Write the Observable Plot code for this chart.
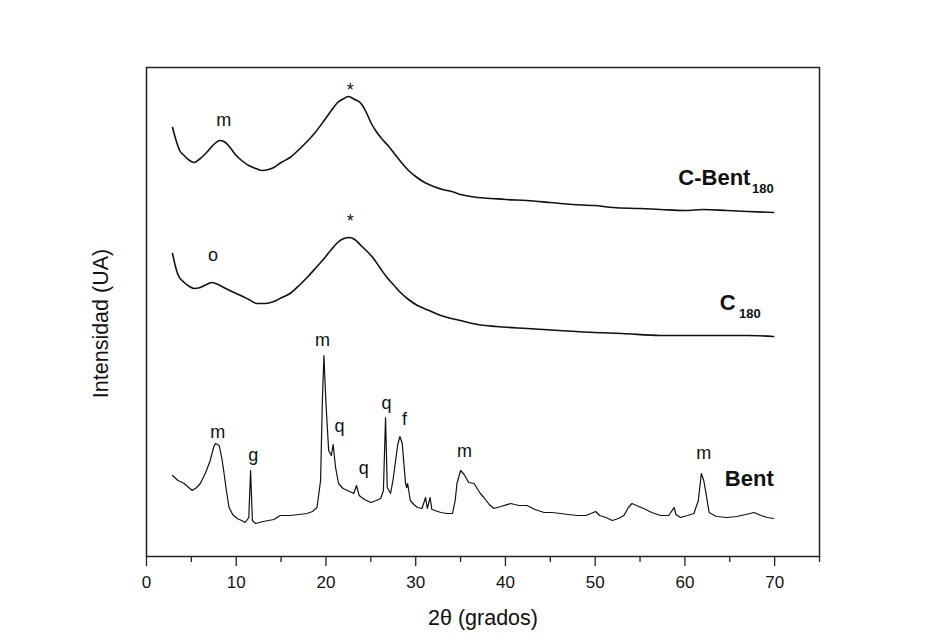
<!DOCTYPE html>
<html>
<head>
<meta charset="utf-8">
<script src="https://cdn.jsdelivr.net/npm/d3@7"></script>
<script src="https://cdn.jsdelivr.net/npm/@observablehq/plot@0.6"></script>
<style>
  html, body { margin: 0; padding: 0; background: #fff; }
  #chart { width: 936px; height: 641px; }
</style>
</head>
<body>
<div id="chart"></div>
<script>
// 2θ (degrees) and intensity (arbitrary units)
const cBentX = [2.9,3.3,3.7,4.2,4.8,5.3,6.0,6.8,7.5,8.2,8.8,9.4,10.0,10.6,11.4,12.2,12.9,13.6,14.2,15.0,16.0,17.0,17.9,18.8,19.8,20.6,21.3,22.0,22.5,23.2,23.9,24.5,25.0,25.6,26.2,27.0,27.7,28.5,29.2,30.0,31.0,32.0,33.0,34.0,35.0,36.9,38.5,40.0,42.4,45,47.5,49.9,52,55,57.3,60,62,64.7,67,69.9];
const cBentY = [429,416,406,401,396,394,398,405,412,416,414,408,401,396,391,388,386,387,389,394,399,407,415,424,436,446,454,458,460,457,453,444,434,425,418,410,402,393,386,380,374,370,367,365,362,359,358,357,356,354,352,351,349,348,347,346,347,346,345,344];

const c180X = [2.9,3.2,3.5,4.2,4.8,5.3,6.0,6.7,7.3,8.0,8.6,9.5,10.5,11.4,12.3,13.2,14.2,15.1,16.0,17.0,17.9,18.9,19.8,20.6,21.3,22.0,22.6,23.2,23.9,24.6,25.3,26.0,26.8,27.5,28.3,29.2,30.2,31.5,32.8,35.0,36.9,39,42.4,46,49.9,53,57.3,61,64.7,67,69.9];
const c180Y = [303,291,282,274,270,268,269,272,274,272,269,265,261,257,253,253,255,259,263,271,279,289,298,307,314,318,319,317,311,305,298,289,279,272,264,257,251,246,241,236,232,230,228,226,224,223,221,221,221,221,220];

const bentX = [2.9,3.5,4.2,4.7,5.1,5.6,6.0,6.6,7.1,7.5,7.7,8.1,8.4,8.6,8.9,9.2,9.6,10.1,10.6,11.0,11.4,11.6,11.8,12.15,13,14.2,14.9,16,17.0,17.9,18.5,19.0,19.4,19.6,19.77,20.0,20.3,20.6,20.8,21.07,21.4,21.9,22.4,23.1,23.4,23.7,24.3,25.0,25.6,26.1,26.4,26.64,26.83,27.2,27.5,27.76,28.0,28.24,28.5,28.7,28.87,29.0,29.1,29.4,29.8,30.2,30.7,31.1,31.3,31.6,31.8,32.8,33.5,34.1,34.4,34.6,35.0,35.4,35.9,36.5,37.2,37.6,38.2,38.7,39.5,40.6,41.5,42.4,43.3,44.3,45.2,46.15,47,48.0,49,50.05,50.5,51.2,51.9,52.6,53.2,53.7,54.1,54.6,55.4,56.3,57.3,58.2,58.8,59.0,59.5,60.3,61.0,61.5,61.83,62.1,62.3,62.7,63.5,64.7,65.8,66.8,67.7,68.5,69.2,69.9];
const bentY = [81,76,73,69,66,69,73,84,96,110,113,111,98,86,66,49,42,38,36,34,39,86,36,33,35,37,41,41,42,43,45,49,76,156,201,153,106,101,112,89,73,68,66,63,71,61,57,54,56,58,66,139,69,63,78,96,112,120,113,91,73,69,73,56,52,49,48,59,48,59,47,44,43,43,56,73,86,82,74,73,63,59,52,48,50,53,51,51,47,44,44,43,42,41,41,45,41,39,36,38,41,49,53,51,48,44,41,41,49,42,39,41,43,56,83,76,66,44,40,39,40,42,44,41,39,38];

// peak annotations
const peakText = ["m","*","o","*","m","g","m","q","q","q","f","m","m"];
const peakX    = [8.6,22.7,7.4,22.7,7.95,11.9,19.6,21.5,24.2,26.75,28.75,35.45,62.1];
const peakY    = [436,466,301,335,124,101,216,130,88,153,137,105,103];

// sample names (name + subscript)
const nameText = ["C-Bent","C","Bent"];
const nameX    = [67.3,65.66,69.9];
const nameY    = [379,254,78];
const subText  = ["180","180"];
const subX     = [69.9,68.44];
const subY     = [368,243];

const majorTicks = [0,10,20,30,40,50,60,70];
const minorTicks = [5,15,25,35,45,55,65,75];

const toRows = (xs, ys) => xs.map((x, i) => ({x, y: ys[i]}));
const peaks = peakText.map((t, i) => ({t, x: peakX[i], y: peakY[i]}));
const names = nameText.map((t, i) => ({t, x: nameX[i], y: nameY[i]}));
const subs = subText.map((t, i) => ({t, x: subX[i], y: subY[i]}));

const chart = Plot.plot({
  width: 936,
  height: 641,
  marginLeft: 146,
  marginRight: 117,
  marginTop: 67,
  marginBottom: 85,
  style: {fontFamily: "'Liberation Sans', Arial, sans-serif", background: "#fff", color: "#111"},
  x: {domain: [0, 75]},
  y: {domain: [0, 489], axis: null},
  marks: [
    Plot.lineY(toRows(cBentX, cBentY), {x: "x", y: "y", stroke: "#111", strokeWidth: 1.6, curve: "monotone-x"}),
    Plot.lineY(toRows(c180X, c180Y), {x: "x", y: "y", stroke: "#111", strokeWidth: 1.6, curve: "monotone-x"}),
    Plot.lineY(toRows(bentX, bentY), {x: "x", y: "y", stroke: "#111", strokeWidth: 1.2, curve: "linear"}),
    Plot.text(peaks, {x: "x", y: "y", text: "t", fontSize: 18, fill: "#111"}),
    Plot.text(names, {x: "x", y: "y", text: "t", fontSize: 22, fontWeight: "bold", textAnchor: "end", fill: "#111"}),
    Plot.text(subs, {x: "x", y: "y", text: "t", fontSize: 13, fontWeight: "bold", textAnchor: "end", fill: "#111"}),
    Plot.frame({stroke: "#222", strokeWidth: 1.5}),
    Plot.axisX({ticks: majorTicks, tickSize: 10, tickPadding: 9, fontSize: 17, label: null, stroke: "#222", strokeWidth: 1.3}),
    Plot.axisX({ticks: minorTicks, tickSize: 6, tickFormat: () => "", label: null, stroke: "#222", strokeWidth: 1.3}),
    Plot.text(["2θ (grados)"], {frameAnchor: "bottom", lineAnchor: "middle", textAnchor: "middle", dy: 62, fontSize: 21.5, fill: "#111"}),
    Plot.text(["Intensidad (UA)"], {frameAnchor: "left", lineAnchor: "middle", textAnchor: "middle", rotate: -90, dx: -45, dy: 11.5, fontSize: 21.5, fill: "#111"})
  ]
});
document.getElementById("chart").appendChild(chart);
</script>
</body>
</html>
